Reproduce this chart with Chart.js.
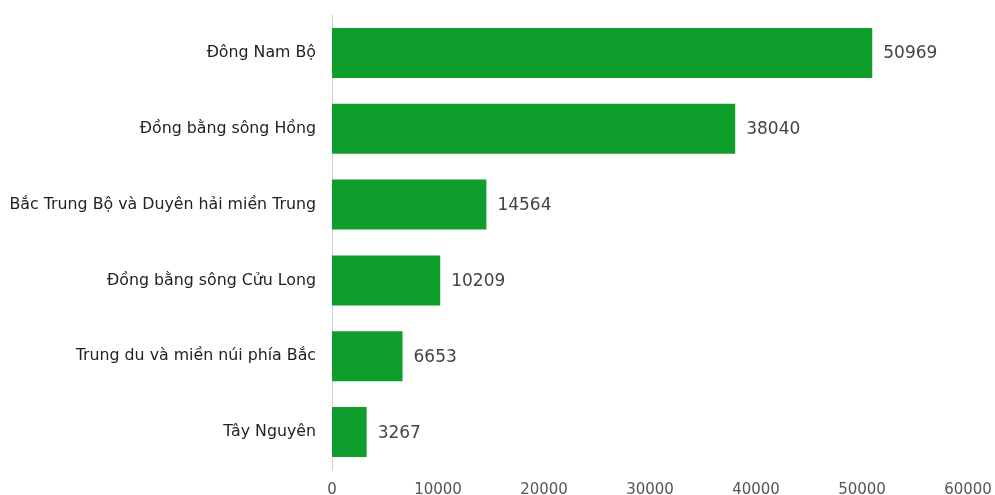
<!DOCTYPE html>
<html>
<head>
<meta charset="utf-8">
<script src="https://cdn.jsdelivr.net/npm/chart.js@4/dist/chart.umd.min.js"></script>
<style>
  html, body { margin: 0; padding: 0; background: #fff; }
  #wrap { width: 995px; height: 495px; }
</style>
</head>
<body>
<div id="wrap"><canvas id="barChart"></canvas></div>
<script>
const regions = [
    "Đông Nam Bộ",
    "Đồng bằng sông Hồng",
    "Bắc Trung Bộ và Duyên hải miền Trung",
    "Đồng bằng sông Cửu Long",
    "Trung du và miền núi phía Bắc",
    "Tây Nguyên"
];
const values = [50969, 38040, 14564, 10209, 6653, 3267];
const xTicks = [0, 10000, 20000, 30000, 40000, 50000, 60000];

const barGreen = '#0f9e2b';
const fontFamily = '"DejaVu Sans", Verdana, sans-serif';

// draws the number just past the end of each bar
const valueLabels = {
    id: 'valueLabels',
    afterDatasetsDraw(chart) {
        const ctx = chart.ctx;
        const meta = chart.getDatasetMeta(0);
        ctx.save();
        ctx.font = '17px ' + fontFamily;
        ctx.fillStyle = '#444';
        ctx.textAlign = 'left';
        ctx.textBaseline = 'middle';
        meta.data.forEach((bar, i) => {
            ctx.fillText(String(values[i]), bar.x + 11, bar.y + 1);
        });
        ctx.restore();
    }
};

const ctx = document.getElementById('barChart').getContext('2d');
new Chart(ctx, {
    type: 'bar',
    data: {
        labels: regions,
        datasets: [{
            data: values,
            backgroundColor: barGreen,
            borderWidth: 0,
            categoryPercentage: 1,
            barPercentage: 0.66
        }]
    },
    options: {
        indexAxis: 'y',
        responsive: true,
        maintainAspectRatio: false,
        animation: false,
        layout: { padding: { top: 15, right: 27, left: 0, bottom: 0 } },
        plugins: {
            legend: { display: false },
            tooltip: { enabled: false }
        },
        scales: {
            x: {
                min: 0,
                max: 60000,
                afterBuildTicks(axis) {
                    axis.ticks = xTicks.map(v => ({ value: v }));
                },
                grid: { display: false },
                border: { display: false },
                ticks: {
                    padding: 3,
                    color: '#555',
                    font: { family: fontFamily, size: 15 },
                    callback: (v) => String(v)
                },
                afterFit(axis) { axis.height = 25; }
            },
            y: {
                grid: { display: false },
                border: { display: true, color: '#d0d0d0', width: 1 },
                ticks: {
                    padding: 8,
                    color: '#222',
                    font: { family: fontFamily, size: 15.8 }
                },
                afterFit(axis) {
                    axis.width = 332;
                    axis.paddingTop = 0;
                    axis.paddingBottom = 0;
                }
            }
        }
    },
    plugins: [valueLabels]
});
</script>
</body>
</html>
